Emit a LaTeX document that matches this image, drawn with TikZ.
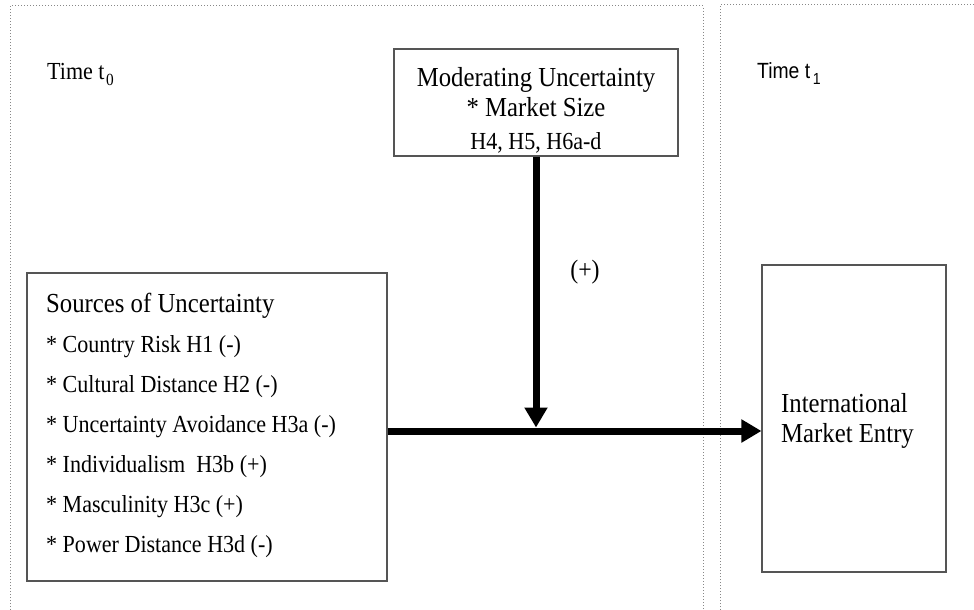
\documentclass[tikz,border=0pt]{standalone}
\usepackage{fontspec}
\usetikzlibrary{arrows.meta}
\newfontfamily\tms{Liberation Serif}[FakeStretch=0.9]
\newfontfamily\arl{Liberation Sans}[FakeStretch=0.88]
\newcommand{\fitem}{\tms\fontsize{24.5}{29}\selectfont}
\newcommand{\fbig}{\tms\fontsize{27.5}{32}\selectfont}
\definecolor{boxline}{HTML}{555555}
\definecolor{panelline}{HTML}{888888}
\tikzset{
  panel/.style={draw=panelline, line width=1pt, dotted},
  frame/.style={draw=boxline, line width=1.1pt, rectangle, inner sep=0pt},
  txt/.style={inner sep=0pt, anchor=base west},
  ctxt/.style={inner sep=0pt, anchor=base},
  flow/.style={line width=7pt, -{Triangle[length=20pt,width=22pt]}}
}
\begin{document}
\begin{tikzpicture}[x=1pt,y=-1pt]
\useasboundingbox (0,0) rectangle (974,610);
% panels
\draw[panel] (10,610) -- (10,6) -- (703,6) -- (703,610);
\draw[panel] (720,610) -- (720,5) -- (974,5);
% time labels
\node[txt] (t0) at (47,79) {\fitem Time t\hspace{1.5pt}\raisebox{-6pt}{\fontsize{17}{17}\selectfont 0}};
\node[txt] (t1) at (757,78) {\arl\fontsize{22}{26}\selectfont Time t\hspace{2.5pt}\raisebox{-6pt}{\fontsize{16}{16}\selectfont 1}};
% boxes
\node[frame, minimum width=284pt, minimum height=107pt] (mod) at (536,102.5) {};
\node[frame, minimum width=360pt, minimum height=308pt] (src) at (207,427) {};
\node[frame, minimum width=184pt, minimum height=307pt] (ime) at (854,418.5) {};
% moderating text
\node[ctxt] (m1) at (536,86) {\fbig Moderating Uncertainty};
\node[ctxt] (m2) at (536,116) {\fbig * Market Size};
\node[ctxt] (m3) at (536,149) {\fitem H4, H5, H6a-d};
% sources text
\node[txt] (s0) at (46,312) {\fbig Sources of Uncertainty};
\node[txt] (s1) at (46,352) {\fitem * Country Risk H1 (-)};
\node[txt] (s2) at (46,392) {\fitem * Cultural Distance H2 (-)};
\node[txt] (s3) at (46,432) {\fitem * Uncertainty Avoidance H3a (-)};
\node[txt] (s4) at (46,472) {\fitem * Individualism\ \ H3b (+)};
\node[txt] (s5) at (46,512) {\fitem * Masculinity H3c (+)};
\node[txt] (s6) at (46,552) {\fitem * Power Distance H3d (-)};
% entry text
\node[txt] (e1) at (781,412) {\fbig International};
\node[txt] (e2) at (781,442) {\fbig Market Entry};
% plus label
\node[ctxt] (plus) at (585,278) {\tms\fontsize{26.5}{30}\selectfont (+)};
% connectors
\coordinate (hy) at (536,431);
\draw[flow] (src.east |- hy) -- (ime.west |- hy);
\draw[flow] (mod.south) -- ([yshift=3.5pt]hy);
\end{tikzpicture}
\end{document}
